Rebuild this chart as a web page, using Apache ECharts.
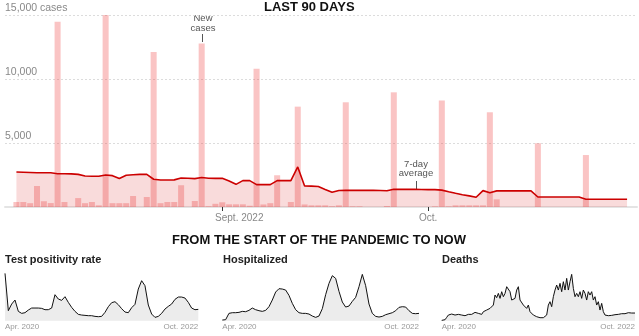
<!DOCTYPE html>
<html><head><meta charset="utf-8">
<script src="https://cdn.jsdelivr.net/npm/echarts@6/dist/echarts.min.js"></script>
<style>html,body{margin:0;padding:0;background:#fff}#c{width:639px;height:336px}</style>
</head><body><div id="c"></div>
<script>
// ---- Last 90 days (Aug 2 – Oct 30, 2022) ----
const startDay = new Date(2022, 7, 2);
const dayLabels = [];
for (let i = 0; i < 90; i++) { const d = new Date(startDay); d.setDate(d.getDate() + i); dayLabels.push((d.getMonth()+1) + '/' + d.getDate()); }

const newCases = [390,390,300,1640,450,310,14480,390,0,700,
  300,390,130,15300,300,300,300,860,0,780,
  12100,300,390,390,1700,0,470,12770,60,250,
  370,210,210,210,100,10800,200,300,2480,0,
  390,7840,200,130,130,130,60,130,8180,50,
  50,0,0,0,80,8960,0,0,0,0,
  0,50,8320,50,130,130,130,130,130,7400,
  600,0,0,0,0,0,4980,0,0,0,
  0,0,0,4060,0,0,0,0,0,0];

const avg7 = [2730,2710,2690,2670,2670,2670,2600,2600,2590,2550,
  2420,2400,2400,2500,2450,2220,2480,2520,2550,2550,
  2170,2110,2110,2120,2270,2250,2220,2300,2250,2240,
  2240,2030,1770,2060,2060,1750,1750,1750,2060,2060,
  2060,3130,1640,1630,1600,1370,1150,1290,1300,1300,
  1300,1300,1300,1290,1270,1380,1380,1380,1380,1370,
  1360,1360,1320,1190,1070,960,870,760,1280,1120,
  1260,1260,1260,1260,1260,1260,780,780,780,780,
  780,780,780,600,600,600,600,600,600,600];

const monthTickIdx = [30, 60];
const monthTickLabels = ['Sept. 2022', 'Oct.'];
const yTickVals = [5000, 10000, 15000];
const yTickLabels = ['5,000', '10,000', '15,000 cases'];

// ---- From the start of the pandemic (relative heights) ----
const posRate = [142,30,50,62,28,22,24,32,38,38,38,37,33,33,38,78,65,61,72,55,
  40,28,19,17,16,15,15,13,12,13,25,42,54,57,48,36,26,24,39,49,
  95,120,105,47,20,10,13,22,35,43,50,64,71,71,68,55,38,33,34];
const hospitalized = [2,3,22,24,24,25,28,27,31,38,33,30,28,31,42,62,86,96,95,92,
  76,52,33,24,22,22,20,14,10,14,36,78,112,135,127,88,56,41,44,58,
  70,102,139,105,50,22,13,11,13,18,21,24,30,40,42,41,30,22,21,22];
const deaths = [1,2,3,10,17,19,20,18,17,18,19,18,17,16,15,17,19,18,19,22,
  25,23,22,20,19,27,29,32,34,37,42,47,77,69,82,67,87,72,82,102,
  105,87,62,57,67,92,102,62,57,47,52,37,47,27,25,17,14,12,10,9,
  9,9,12,17,47,57,42,72,92,107,92,112,87,117,92,127,92,117,139,97,
  72,82,72,87,67,92,82,62,87,77,87,62,72,47,57,32,52,27,17,15,
  15,15,16,17,18,19,19,20,21,22,21,23,24,25,23,22,23];
const smallTickLabels = ['Apr. 2020', 'Oct. 2022'];
const smallTitles = ['Test positivity rate', 'Hospitalized', 'Deaths'];

const FONT = '"Liberation Sans", Arial, sans-serif';
const chart = echarts.init(document.getElementById('c'));

function idx(arr) { return arr.map((_, i) => String(i)); }
function smallX(gi, arr) {
  const n = arr.length;
  return {
    type: 'category', gridIndex: gi, data: idx(arr), boundaryGap: false,
    axisLine: { show: false }, axisTick: { show: false }, splitLine: { show: false },
    axisLabel: {
      interval: (i) => i === 0 || i === n - 1,
      formatter: (v, i) => i === 0 ? smallTickLabels[0] : smallTickLabels[1],
      alignMinLabel: 'left', alignMaxLabel: 'right',
      color: '#999', fontSize: 8, margin: 2, fontFamily: FONT
    }
  };
}
function smallY(gi) { return { type: 'value', gridIndex: gi, min: 0, max: 150, show: false }; }
function smallSeries(gi, arr) {
  return { type: 'line', xAxisIndex: gi, yAxisIndex: gi, data: arr, symbol: 'none',
    lineStyle: { color: '#111', width: 1 }, areaStyle: { color: '#ececec', opacity: 1 }, silent: true };
}

const option = {
  animation: false,
  textStyle: { fontFamily: FONT },
  title: [
    { text: 'LAST 90 DAYS', left: 264, top: 1, padding: 0, textStyle: { fontSize: 13, fontWeight: 'bold', color: '#111', fontFamily: FONT } },
    { text: 'FROM THE START OF THE PANDEMIC TO NOW', left: 172, top: 234, padding: 0, textStyle: { fontSize: 13, fontWeight: 'bold', color: '#111', fontFamily: FONT } },
    { text: smallTitles[0], left: 5, top: 254, padding: 0, textStyle: { fontSize: 11, fontWeight: 'bold', color: '#222', fontFamily: FONT } },
    { text: smallTitles[1], left: 223, top: 254, padding: 0, textStyle: { fontSize: 11, fontWeight: 'bold', color: '#222', fontFamily: FONT } },
    { text: smallTitles[2], left: 442, top: 254, padding: 0, textStyle: { fontSize: 11, fontWeight: 'bold', color: '#222', fontFamily: FONT } }
  ],
  grid: [
    { left: 13, right: 8.5, top: 15, bottom: 129 },
    { left: 5, right: 2, top: 15, bottom: 129 },
    { left: 5, right: 440.7, top: 270.7, bottom: 15.3 },
    { left: 222.3, right: 220, top: 270.7, bottom: 15.3 },
    { left: 441.7, right: 4, top: 270.7, bottom: 15.3 }
  ],
  xAxis: [
    {
      type: 'category', gridIndex: 0, data: dayLabels, boundaryGap: true,
      axisLine: { show: false },
      axisTick: { show: true, alignWithLabel: true, interval: (i) => monthTickIdx.includes(i), length: 4, lineStyle: { color: '#333' } },
      axisLabel: {
        interval: (i) => monthTickIdx.includes(i),
        formatter: (v, i) => { const k = monthTickIdx.indexOf(i); return k === 0 ? '{s|' + monthTickLabels[0] + '}' : monthTickLabels[k]; },
        rich: { s: { padding: [0, 0, 0, 34], color: '#888', fontSize: 10, fontFamily: FONT } },
        color: '#888', fontSize: 10, margin: 6, fontFamily: FONT
      }
    },
    { type: 'value', gridIndex: 1, min: 0, max: 1, axisLine: { show: true, lineStyle: { color: '#e4e4e4', width: 2 } }, axisTick: { show: false }, axisLabel: { show: false }, splitLine: { show: false } },
    smallX(2, posRate), smallX(3, hospitalized), smallX(4, deaths)
  ],
  yAxis: [
    { type: 'value', gridIndex: 0, min: 0, max: 15000, show: false },
    {
      type: 'value', gridIndex: 1, min: 0, max: 15000, interval: 5000,
      axisLine: { show: false }, axisTick: { show: false },
      splitLine: { show: true, showMinLine: false, lineStyle: { color: '#dcdcdc', type: [2, 2], width: 1 } },
      axisLabel: {
        inside: true, margin: 0, verticalAlign: 'bottom', padding: [0, 0, 1, 0],
        formatter: (v) => { const k = yTickVals.indexOf(v); return k < 0 ? '' : yTickLabels[k]; },
        color: '#888', fontSize: 10.5, fontFamily: FONT
      }
    },
    smallY(2), smallY(3), smallY(4)
  ],
  series: [
    { type: 'bar', xAxisIndex: 0, yAxisIndex: 0, data: newCases, barCategoryGap: '12%', itemStyle: { color: 'rgba(238,60,60,0.3)' }, silent: true },
    { type: 'line', xAxisIndex: 0, yAxisIndex: 0, data: avg7, symbol: 'none', lineStyle: { color: '#cc0000', width: 1.6 }, areaStyle: { color: 'rgba(220,40,40,0.17)', opacity: 1 }, silent: true },
    smallSeries(2, posRate), smallSeries(3, hospitalized), smallSeries(4, deaths)
  ],
  graphic: [
    { type: 'text', x: 203, y: 13, style: { text: 'New\ncases', fontSize: 9.5, lineHeight: 10, fill: '#555', align: 'center', verticalAlign: 'top', fontFamily: FONT } },
    { type: 'line', shape: { x1: 202.5, y1: 34, x2: 202.5, y2: 42 }, style: { stroke: '#555', lineWidth: 1 } },
    { type: 'text', x: 416, y: 159.5, style: { text: '7-day\naverage', fontSize: 9.5, lineHeight: 9.5, fill: '#555', align: 'center', verticalAlign: 'top', fontFamily: FONT } },
    { type: 'line', shape: { x1: 416.5, y1: 181, x2: 416.5, y2: 189 }, style: { stroke: '#555', lineWidth: 1 } }
  ]
};
chart.setOption(option);
</script>
</body></html>
